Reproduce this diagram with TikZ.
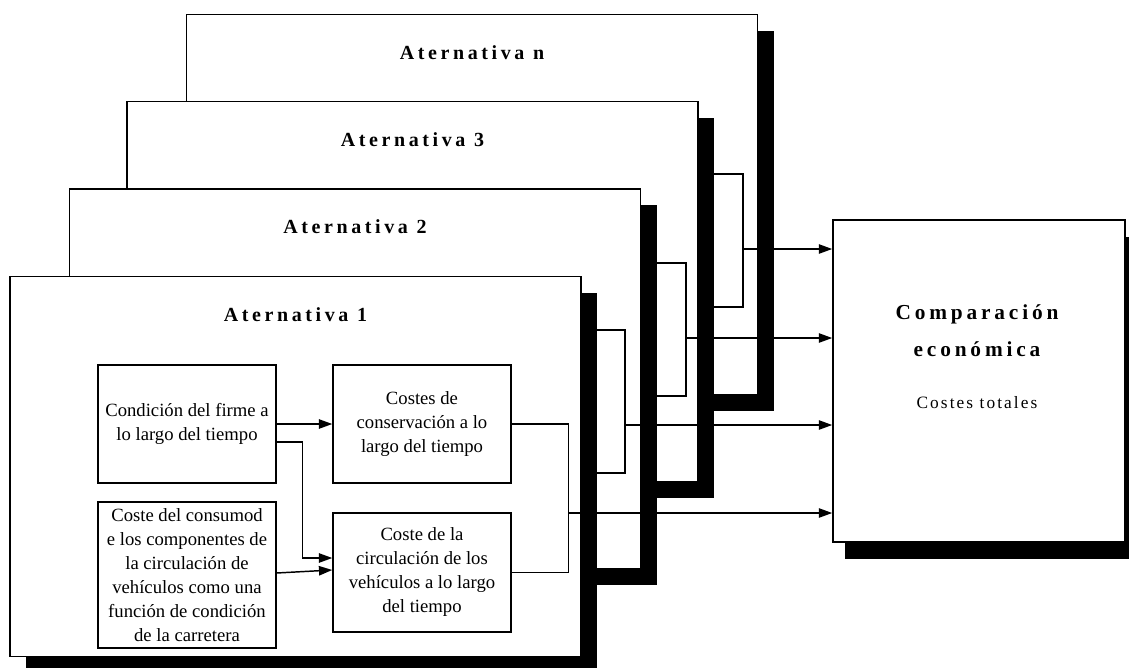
\documentclass[tikz,border=0pt]{standalone}
\usepackage{fontspec}
\setmainfont{Liberation Serif}
\newfontfamily\widefont{Liberation Serif}[LetterSpace=18]
\newfontfamily\lightwide{Liberation Serif}[LetterSpace=12]
\usetikzlibrary{calc}
\usetikzlibrary{shadows}
\usetikzlibrary{arrows.meta}

\tikzset{
  altframe/.style={draw, fill=white, line width=1.2pt, inner sep=0pt,
    minimum width=428.25pt, minimum height=285pt,
    general shadow={fill=black, shadow xshift=12pt, shadow yshift=-12pt}},
  alttitle/.style={font=\widefont\bfseries\fontsize{15}{18}\selectfont},
  compbox/.style={draw, fill=white, line width=1.2pt, inner sep=0pt,
    minimum width=219pt, minimum height=241.5pt,
    general shadow={fill=black, shadow xshift=9pt, shadow yshift=-12.75pt}},
  comptitle/.style={align=center, font=\widefont\bfseries\fontsize{16}{27.75}\selectfont},
  comptext/.style={font=\lightwide\fontsize{13}{15}\selectfont},
  stepbox/.style={draw, fill=white, line width=1.1pt, align=center,
    minimum width=133.5pt, inner xsep=2pt, inner ysep=1pt,
    font=\fontsize{14}{18}\selectfont},
  wire/.style={line width=1.1pt},
  arr/.style={wire, -{Triangle[length=10pt,width=7pt]}},
}

\begin{document}
\begin{tikzpicture}[x=0.75pt, y=-0.75pt]
  \useasboundingbox (0,0) rectangle (1129,668);

  % economic comparison
  \node[compbox] (comp) at (979,381) {};
  \node[comptitle] (comphead) at (977,331) {Comparación\\económica};
  \node[comptext] (comptotal) at (977,403) {Costes totales};

  % alternatives behind (n, 3, 2)
  \foreach \nm/\cx/\cy/\bx/\ta/\tb/\out in
    {n/472/204.5/743/174/307/249, 3/412.5/291.5/686/263/396/338, 2/355/379/625/330/473/425}
  {
    \node[altframe] (alt\nm) at (\cx,\cy) {};
    \node[alttitle] (title\nm) at ([yshift=-29pt]alt\nm.north) {Aternativa \nm};
    \draw[wire] (\bx-50,\ta) -| (\bx,\tb) -- ++(-50,0);
    \coordinate (join\nm) at (\bx,\out);
    \draw[arr] (join\nm) -- (comp.west |- join\nm);
  }

  % alternative 1
  \node[altframe] (alt1) at (295.5,466.5) {};
  \node[alttitle] (title1) at ([yshift=-29pt]alt1.north) {Aternativa 1};

  \node[stepbox, minimum height=88.5pt] (cond) at (187,424)
    {Condición del firme a\\lo largo del tiempo};
  \node[stepbox, minimum height=88.5pt] (cons) at (422,424)
    {Costes de\\conservación a lo\\largo del tiempo};
  \node[stepbox, minimum height=109.5pt] (cmod) at (187,575)
    {Coste del consumod\\e los componentes de\\la circulación de\\vehículos como una\\función de condición\\de la carretera};
  \node[stepbox, minimum height=89.25pt] (circ) at (422,572.5)
    {Coste de la\\circulación de los\\vehículos a lo largo\\del tiempo};

  \draw[arr] (cond.east) -- (cons.west);
  \draw[arr] ($(cond.east)+(0,18)$) -- ++(26,0) |- ($(circ.west)+(0,-14.5)$);
  \draw[arr] ($(cmod.east)+(0,-2)$) -- ($(circ.west)+(0,-2.5)$);
  \draw[wire] (cons.east) -- ++(57,0) |- (circ.east);
  \coordinate (join1) at (568,513);
  \draw[arr] (join1) -- (comp.west |- join1);
\end{tikzpicture}
\end{document}
